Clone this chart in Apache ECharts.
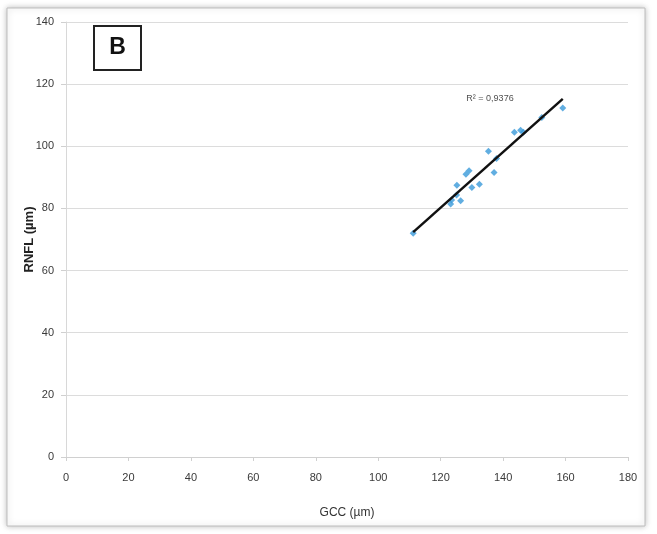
<!DOCTYPE html>
<html>
<head>
<meta charset="utf-8">
<script src="https://cdn.jsdelivr.net/npm/echarts@6/dist/echarts.min.js"></script>
<style>
  html, body { margin: 0; padding: 0; background: #fff; }
  #chart { width: 657px; height: 534px; }
</style>
</head>
<body>
<div id="chart"></div>
<script>
// GCC (µm) vs RNFL (µm)
var gcc = [111.2, 123.2, 123.5, 125.1, 125.2, 126.4, 128.1, 129.1, 130.0, 132.4, 135.3, 137.1, 137.9, 143.6, 145.6, 146.5, 152.4, 159.1];
var rnfl = [72.0, 81.4, 82.7, 84.3, 87.5, 82.5, 91.0, 92.1, 86.7, 87.8, 98.4, 91.6, 96.1, 104.5, 105.2, 104.5, 109.3, 112.3];
var xTicks = [0, 20, 40, 60, 80, 100, 120, 140, 160, 180];
var yTicks = [0, 20, 40, 60, 80, 100, 120, 140];
var r2Label = "R² = 0,9376";
var r2Pos = [135.8, 115.5];

var points = gcc.map(function (x, i) { return [x, rnfl[i]]; });

// least squares trend line over the data range
var n = gcc.length, sx = 0, sy = 0, sxx = 0, sxy = 0;
for (var i = 0; i < n; i++) {
  sx += gcc[i]; sy += rnfl[i]; sxx += gcc[i] * gcc[i]; sxy += gcc[i] * rnfl[i];
}
var slope = (n * sxy - sx * sy) / (n * sxx - sx * sx);
var icpt = (sy - slope * sx) / n;
var xMin = Math.min.apply(null, gcc), xMax = Math.max.apply(null, gcc);
var trend = [[xMin, icpt + slope * xMin], [xMax, icpt + slope * xMax]];

var chart = echarts.init(document.getElementById("chart"));
var labelFont = { color: "#3a3a3a", fontFamily: "Liberation Sans Narrow, Liberation Sans, sans-serif", fontSize: 11 };

chart.setOption({
  animation: false,
  graphic: [
    {
      type: "rect",
      shape: { x: 7, y: 8, width: 638, height: 518 },
      style: { fill: "#fff", stroke: "#bdbdbd", lineWidth: 1, shadowBlur: 6, shadowColor: "rgba(0,0,0,0.25)" },
      z: -10
    },
    {
      type: "group",
      left: 93, top: 25,
      children: [
        { type: "rect", shape: { x: 0, y: 0, width: 47, height: 44 }, style: { fill: "#fff", stroke: "#222", lineWidth: 2 } },
        { type: "text", x: 23.5, y: 22, style: { text: "B", fill: "#111", font: "bold 23px Liberation Sans, sans-serif", textAlign: "center", textVerticalAlign: "middle" } }
      ]
    }
  ],
  grid: { left: 66, right: 29, top: 22, bottom: 77 },
  xAxis: {
    type: "value",
    min: 0, max: 180, interval: 20,
    name: "GCC (µm)",
    nameLocation: "middle",
    nameGap: 50,
    nameMoveOverlap: false,
    nameTextStyle: { color: "#333", fontFamily: "Liberation Sans Narrow, sans-serif", fontSize: 12 },
    axisLine: { show: true, lineStyle: { color: "#d0d0d0" } },
    axisTick: { show: true, length: 4, lineStyle: { color: "#d0d0d0" } },
    axisLabel: Object.assign({ margin: 15 }, labelFont),
    splitLine: { show: false }
  },
  yAxis: {
    type: "value",
    min: 0, max: 140, interval: 20,
    name: "RNFL (µm)",
    nameLocation: "middle",
    nameGap: 30,
    nameMoveOverlap: false,
    nameTextStyle: { color: "#222", fontFamily: "Liberation Sans, sans-serif", fontSize: 13, fontWeight: "bold" },
    axisLine: { show: true, lineStyle: { color: "#d8d8d8" } },
    axisTick: { show: true, length: 5, lineStyle: { color: "#d0d0d0" } },
    axisLabel: Object.assign({ margin: 12 }, labelFont),
    splitLine: { show: true, lineStyle: { color: "#dcdcdc" } }
  },
  series: [
    {
      type: "line",
      data: trend,
      symbol: "none",
      lineStyle: { color: "#111", width: 2.5 },
      z: 3
    },
    {
      type: "scatter",
      data: points,
      symbol: "diamond",
      symbolSize: 7,
      itemStyle: { color: "#3a9ad9" },
      z: 2
    },
    {
      type: "scatter",
      data: [r2Pos],
      symbolSize: 1,
      itemStyle: { color: "transparent" },
      silent: true,
      label: { show: true, position: "inside", formatter: r2Label, color: "#222", fontFamily: "Liberation Sans Narrow, sans-serif", fontSize: 9 },
      z: 4
    }
  ]
});
</script>
</body>
</html>
